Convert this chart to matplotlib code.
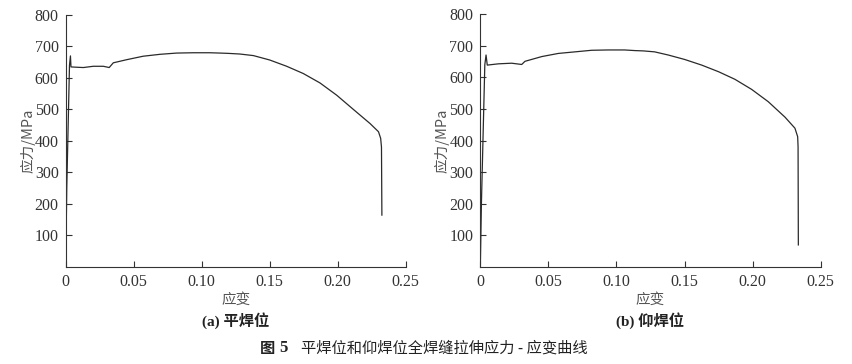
#!/usr/bin/env python
"""Tensile stress-strain curves of full weld metal, flat vs overhead position."""

import matplotlib

matplotlib.use("Agg")

import matplotlib.pyplot as plt

# (a) flat welding position
strain_a = [0.0, 0.0008, 0.0028, 0.0035, 0.0039, 0.008, 0.013, 0.0203, 0.0277, 0.032, 0.035,
            0.0449, 0.057, 0.0693, 0.0816, 0.0938, 0.106, 0.1135, 0.1196, 0.128, 0.138,
            0.150, 0.1625, 0.1747, 0.187, 0.1993, 0.2115, 0.2238, 0.230, 0.2316, 0.2322, 0.2325]
stress_a = [0, 250, 640, 670, 635, 634, 633, 637, 637, 633, 648,
            658, 669, 675, 679, 680, 680, 679, 678, 676, 671,
            657, 637, 614, 584, 545, 500, 455, 429, 408, 380, 164]

# (b) overhead welding position
strain_b = [0.0, 0.0008, 0.0033, 0.0042, 0.0051, 0.0132, 0.023, 0.0304, 0.0328, 0.0451,
            0.0573, 0.0696, 0.0818, 0.094, 0.106, 0.1136, 0.1197, 0.128, 0.138, 0.150,
            0.1626, 0.175, 0.187, 0.1993, 0.2115, 0.2238, 0.2311, 0.2331, 0.2334, 0.2336]
stress_b = [0, 200, 640, 671, 639, 643, 645, 641, 651, 666,
            676, 681, 686, 687, 687, 685, 684, 681, 671, 657,
            639, 618, 594, 562, 523, 474, 439, 412, 380, 69]

x_ticks = [0, 0.05, 0.10, 0.15, 0.20, 0.25]
x_tick_labels = ["0", "0.05", "0.10", "0.15", "0.20", "0.25"]
y_ticks = [100, 200, 300, 400, 500, 600, 700, 800]

panels = [
    ("(a) 平焊位", strain_a, stress_a, [0.077, 0.2673, 0.3986, 0.6915]),
    ("(b) 仰焊位", strain_b, stress_b, [0.5631, 0.2673, 0.3990, 0.6934]),
]

CJK = ["Noto Sans CJK SC", "DejaVu Sans"]
SERIF_CJK = ["Liberation Serif", "Noto Sans CJK SC"]
SERIF = ["Liberation Serif"]

fig = plt.figure(figsize=(8.53, 3.64), dpi=100)

for caption, xs, ys, rect in panels:
    ax = fig.add_axes(rect)
    ax.plot(xs, ys, color="#2a2a2a", linewidth=0.9)
    ax.set_xlim(0, 0.25)
    ax.set_ylim(0, 800)
    ax.set_xticks(x_ticks)
    ax.set_xticklabels(x_tick_labels)
    ax.set_yticks(y_ticks)
    for side in ("top", "right"):
        ax.spines[side].set_visible(False)
    for side in ("left", "bottom"):
        ax.spines[side].set_color("#333333")
        ax.spines[side].set_linewidth(0.8)
    ax.tick_params(direction="in", length=4, width=0.8, color="#333333",
                   labelsize=11.5, labelcolor="#333333", pad=5)
    for lab in ax.get_xticklabels() + ax.get_yticklabels():
        lab.set_family(SERIF)
    ax.set_xlabel("应变", family=CJK, fontsize=10.5, color="#555555", labelpad=2)
    ax.set_ylabel("应力/MPa", family=CJK, fontsize=10.5, color="#555555")
    ax.yaxis.set_label_coords(-0.09, 0.5)

    cx = rect[0] + rect[2] / 2
    fig.text(cx, 0.12, caption, family=SERIF_CJK, fontsize=11, fontweight="bold",
             color="#222222", ha="center", va="center")

fig.text(0.305, 0.043, "图", family=CJK, fontsize=11, fontweight="bold",
         color="#222222", ha="left", va="center")
fig.text(0.327, 0.043, "5", family=SERIF, fontsize=12, fontweight="bold",
         color="#222222", ha="left", va="center")
fig.text(0.353, 0.043, "平焊位和仰焊位全焊缝拉伸应力 - 应变曲线", family=CJK,
         fontsize=11, color="#222222", ha="left", va="center")

fig.savefig("out.png", dpi=100, facecolor="white")
